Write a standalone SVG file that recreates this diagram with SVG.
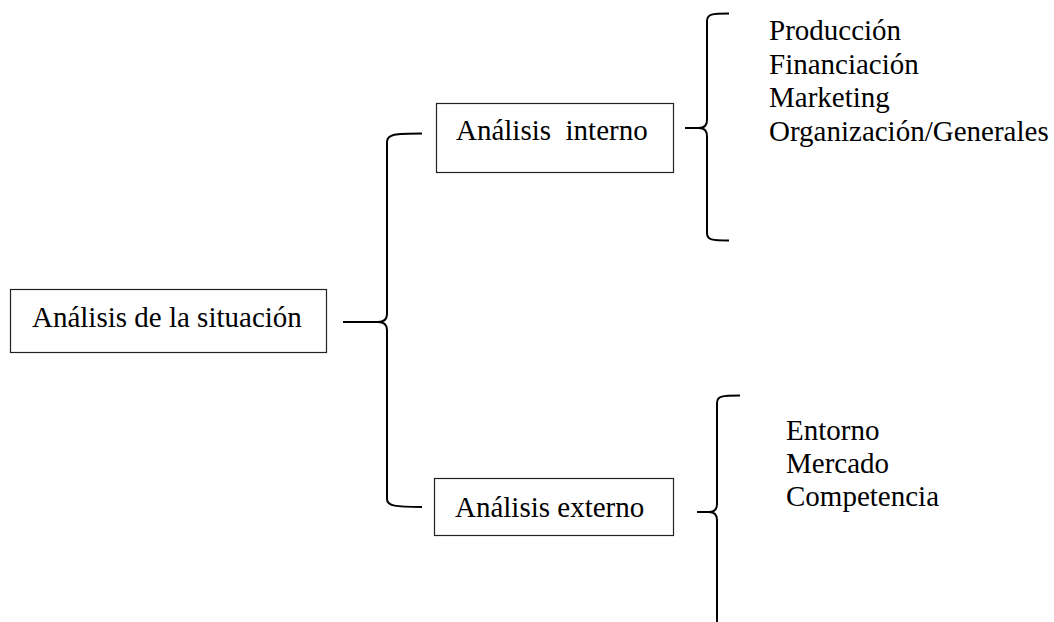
<svg xmlns="http://www.w3.org/2000/svg" width="1054" height="622" viewBox="0 0 1054 622">
<style>
.box{fill:#fff;stroke:#222;stroke-width:1.2}
.t{font-family:"Liberation Serif","Times New Roman",serif;font-size:29px;fill:#000}
.br{fill:none;stroke:#000;stroke-width:2;stroke-linejoin:round;stroke-linecap:butt}
</style>
<rect width="1054" height="622" fill="#fff"/>
<g id="connectors">
<path class="br" d="M422,133.5 C395,133.5 387,134 387,142 L387,314 Q387,322 378,322 L343,322 M378,322 Q387,322 387,330 L387,499 C387,506 395,507 422,507"/>
<path class="br" d="M729,13.5 C712,13.5 707,14 707,21 L707,120 Q707,128 699,128 L685,128 M699,128 Q707,128 707,136 L707,233 C707,240 712,240.5 729,240.5"/>
<path class="br" d="M740,395.5 C722,395.5 717,396 717,403 L717,504 Q717,512 709,512 L697,512 M709,512 Q717,512 717,520 L717,622"/>
</g>
<g id="node-situacion">
<rect class="box" x="10.5" y="289.5" width="316" height="63"/>
<text class="t" x="32" y="327">Análisis de la situación</text>
</g>
<g id="node-interno">
<rect class="box" x="436.5" y="103.5" width="237" height="69"/>
<text class="t" x="456" y="140" xml:space="preserve">Análisis  interno</text>
</g>
<g id="node-externo">
<rect class="box" x="434.5" y="478.5" width="239" height="57"/>
<text class="t" x="455" y="517">Análisis externo</text>
</g>
<g id="list-interno">
<text class="t" x="769" y="40">Producción</text>
<text class="t" x="769" y="73.5">Financiación</text>
<text class="t" x="769" y="107">Marketing</text>
<text class="t" x="769" y="140.5">Organización/Generales</text>
</g>
<g id="list-externo">
<text class="t" x="786" y="440">Entorno</text>
<text class="t" x="786" y="473">Mercado</text>
<text class="t" x="786" y="506">Competencia</text>
</g>
</svg>
